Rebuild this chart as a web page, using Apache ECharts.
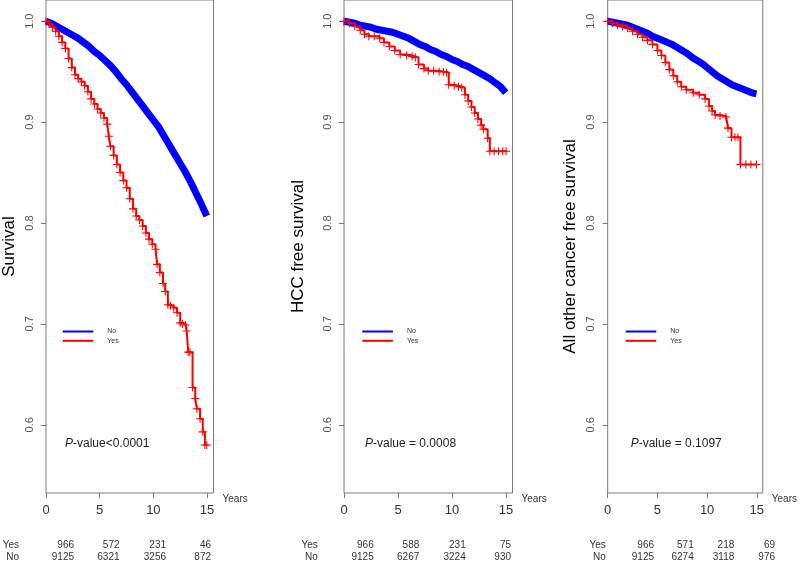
<!DOCTYPE html>
<html><head><meta charset="utf-8">
<script src="https://cdn.jsdelivr.net/npm/echarts@6/dist/echarts.min.js"></script>
<style>html,body{margin:0;padding:0;background:#fff}#c{width:800px;height:562px}</style>
</head><body><div id="c"></div>
<script>
// ---------------- data ----------------
const yTitles = ['Survival', 'HCC free survival', 'All other cancer free survival'];
const pTexts = ['-value<0.0001', '-value = 0.0008', '-value = 0.1097'];
const groupNames = ['No', 'Yes'];
const xTicks = [0, 5, 10, 15];
const yTicks = [0.6, 0.7, 0.8, 0.9, 1.0];
const riskRowLabels = ['Yes', 'No'];
const riskYes = [[966, 572, 231, 46], [966, 588, 231, 75], [966, 571, 218, 69]];
const riskNo = [[9125, 6321, 3256, 872], [9125, 6267, 3224, 930], [9125, 6274, 3118, 976]];

// Panel 1: overall survival
const no1 = [[0,1.0],[0.5,0.998],[1,0.995],[1.5,0.992],[2,0.989],[2.5,0.986],[3,0.983],[3.5,0.979],[4,0.975],[4.5,0.970],[5,0.966],[5.5,0.961],[6,0.956],[6.5,0.950],[7,0.943],[7.5,0.937],[8,0.930],[8.5,0.923],[9,0.916],[9.5,0.909],[10,0.902],[10.5,0.895],[11,0.886],[11.5,0.877],[12,0.868],[12.5,0.859],[13,0.850],[13.5,0.840],[14,0.829],[14.5,0.818],[14.97,0.807]];
const yes1 = [[0,1.0],[0.3,0.997],[0.6,0.994],[0.9,0.990],[1.2,0.985],[1.5,0.979],[1.8,0.973],[2.1,0.963],[2.4,0.954],[2.7,0.947],[3.0,0.943],[3.3,0.940],[3.6,0.936],[3.9,0.930],[4.2,0.923],[4.5,0.918],[4.8,0.913],[5.1,0.909],[5.4,0.904],[5.7,0.898],[5.85,0.886],[6.0,0.876],[6.3,0.867],[6.6,0.858],[6.9,0.850],[7.2,0.842],[7.5,0.835],[7.8,0.824],[8.1,0.814],[8.4,0.807],[8.7,0.803],[9.0,0.797],[9.3,0.790],[9.6,0.784],[9.9,0.779],[10.2,0.774],[10.35,0.759],[10.6,0.751],[10.9,0.740],[11.1,0.732],[11.35,0.719],[11.6,0.718],[11.9,0.716],[12.2,0.711],[12.5,0.701],[12.7,0.700],[13.0,0.699],[13.1,0.693],[13.25,0.672],[13.4,0.672],[13.65,0.637],[13.9,0.626],[14.05,0.616],[14.35,0.606],[14.6,0.593],[14.8,0.580],[14.97,0.580]];

// Panel 2: HCC free survival
const no2 = [[0,1.0],[0.5,0.999],[1,0.998],[1.5,0.996],[2,0.995],[2.5,0.994],[3,0.992],[3.5,0.991],[4,0.990],[4.5,0.989],[5,0.987],[5.5,0.985],[6,0.983],[6.5,0.980],[7,0.977],[7.5,0.975],[8,0.972],[8.5,0.970],[9,0.967],[9.5,0.965],[10,0.962],[10.5,0.960],[11,0.957],[11.5,0.955],[12,0.952],[12.5,0.949],[13,0.946],[13.5,0.943],[14,0.939],[14.5,0.935],[14.97,0.929]];
const yes2 = [[0,1.0],[0.5,0.998],[1.0,0.995],[1.5,0.991],[1.9,0.987],[2.3,0.985],[2.8,0.985],[3.3,0.983],[3.7,0.979],[4.2,0.975],[4.7,0.971],[5.2,0.967],[5.8,0.966],[6.3,0.965],[6.6,0.964],[6.9,0.957],[7.4,0.953],[7.8,0.951],[8.3,0.951],[8.8,0.950],[9.2,0.950],[9.5,0.949],[9.7,0.937],[10.2,0.936],[10.6,0.935],[10.9,0.934],[11.2,0.927],[11.5,0.921],[11.8,0.915],[12.1,0.909],[12.4,0.903],[12.7,0.897],[12.9,0.893],[13.3,0.884],[13.5,0.871],[13.9,0.871],[14.3,0.871],[14.7,0.871],[15.0,0.871]];

// Panel 3: all other cancer free survival
const no3 = [[0,1.0],[0.5,0.999],[1,0.998],[1.5,0.997],[2,0.996],[2.5,0.994],[3,0.992],[3.5,0.990],[4,0.988],[4.5,0.985],[5,0.983],[5.5,0.981],[6,0.979],[6.5,0.977],[7,0.974],[7.5,0.971],[8,0.968],[8.5,0.964],[9,0.961],[9.5,0.958],[10,0.954],[10.5,0.950],[11,0.946],[11.5,0.943],[12,0.940],[12.5,0.937],[13,0.935],[13.5,0.933],[14,0.931],[14.5,0.929],[14.96,0.928]];
const yes3 = [[0,1.0],[0.5,0.998],[1.0,0.996],[1.5,0.995],[2.0,0.993],[2.5,0.990],[3.0,0.987],[3.5,0.984],[4.0,0.981],[4.5,0.977],[5.0,0.971],[5.4,0.966],[5.8,0.959],[6.2,0.952],[6.6,0.946],[7.0,0.940],[7.4,0.935],[7.9,0.932],[8.6,0.929],[9.2,0.927],[9.8,0.923],[10.2,0.916],[10.5,0.911],[10.8,0.907],[11.3,0.906],[11.9,0.905],[12.1,0.894],[12.45,0.885],[12.8,0.885],[13.1,0.885],[13.35,0.858],[13.9,0.858],[14.4,0.858],[14.96,0.858]];

const noSeries = [no1, no2, no3];
const yesSeries = [yes1, yes2, yes3];

// ---------------- layout ----------------
const FONT = '"Liberation Sans", Arial, sans-serif';
const BLUE = '#0000ff', RED = '#ff0000';
const panels = [
  {left: 45, width: 168.5, nameGap: 28, legendLeft: 62.7, pLeft: 65, rowLabelRight: 19, colRight: [74, 119.5, 166, 211]},
  {left: 344, width: 168.5, nameGap: 37, legendLeft: 362.3, pLeft: 365, rowLabelRight: 317.7, colRight: [373.7, 419.3, 465.7, 511]},
  {left: 607.7, width: 157, nameGap: 29, legendLeft: 625.7, pLeft: 630.7, rowLabelRight: 605.7, colRight: [654, 693.7, 734.3, 775]}
];
const GRID_TOP = -2, GRID_H = 495;
const Y_MIN = 0.5324, Y_MAX = 1.021, X_MAX = 15.6;
const crossPath = 'path://M4,0h1.2v4h4v1.2h-4v4h-1.2v-4h-4v-1.2h4z';

const grids = [], xAxes = [], yAxes = [], series = [], legends = [], graphics = [];
panels.forEach((p, i) => {
  grids.push({left: p.left, width: p.width, top: GRID_TOP, height: GRID_H,
    show: true, borderColor: '#7a7a7a', borderWidth: 1, backgroundColor: 'transparent'});
  xAxes.push({type: 'value', gridIndex: i, min: 0, max: X_MAX,
    axisLine: {show: false}, splitLine: {show: false},
    axisTick: {show: true, length: 5, customValues: xTicks, lineStyle: {color: '#7a7a7a'}},
    axisLabel: {customValues: xTicks, fontSize: 13, color: '#333', margin: 11, fontFamily: FONT},
    name: 'Years', nameLocation: 'end', nameGap: 9,
    nameTextStyle: {fontSize: 10, color: '#333', fontFamily: FONT, verticalAlign: 'top', align: 'left', lineHeight: 12}});
  yAxes.push({type: 'value', gridIndex: i, min: Y_MIN, max: Y_MAX,
    axisLine: {show: false}, splitLine: {show: false},
    axisTick: {show: true, length: 5, customValues: yTicks, lineStyle: {color: '#7a7a7a'}},
    axisLabel: {customValues: yTicks, rotate: 90, fontSize: 11, color: '#555', margin: 11, fontFamily: FONT,
      formatter: v => v.toFixed(1)},
    name: yTitles[i], nameLocation: 'middle', nameGap: p.nameGap, nameRotate: 90, nameMoveOverlap: false,
    nameTextStyle: {fontSize: 17, color: '#000', fontFamily: FONT}});
  series.push({name: groupNames[0], type: 'line', xAxisIndex: i, yAxisIndex: i, data: noSeries[i],
    color: BLUE, showSymbol: false, lineStyle: {width: 7, color: BLUE}, z: 2, silent: true});
  series.push({name: groupNames[1], type: 'line', xAxisIndex: i, yAxisIndex: i, data: yesSeries[i],
    color: RED, step: 'end', showSymbol: true, showAllSymbol: true, symbol: crossPath, symbolSize: 8,
    itemStyle: {color: RED}, lineStyle: {width: 2, color: RED}, z: 3, silent: true});
  legends.push({orient: 'vertical', left: p.legendLeft, top: 327, padding: 0, itemGap: 0.3,
    itemWidth: 30.6, itemHeight: 2, icon: 'rect', selectedMode: false, data: groupNames,
    textStyle: {fontSize: 7, lineHeight: 9, color: '#333', fontFamily: FONT, padding: [0, 0, 0, 9]}});
  graphics.push({type: 'text', x: p.pLeft, y: 444, silent: true,
    style: {text: '{i|P}{n|' + pTexts[i] + '}', textVerticalAlign: 'middle', verticalAlign: 'middle',
      rich: {i: {fontSize: 12, fontStyle: 'italic', fontFamily: FONT, fill: '#222'},
             n: {fontSize: 12, fontFamily: FONT, fill: '#222'}}}});
  const rows = [riskYes[i], riskNo[i]];
  const rowY = [545.7, 557.7];
  rows.forEach((vals, r) => {
    graphics.push({type: 'text', x: p.rowLabelRight, y: rowY[r], silent: true,
      style: {text: riskRowLabels[r], font: '10px ' + FONT, fill: '#333',
        textAlign: 'right', align: 'right', textVerticalAlign: 'middle', verticalAlign: 'middle'}});
    vals.forEach((v, k) => {
      graphics.push({type: 'text', x: p.colRight[k], y: rowY[r], silent: true,
        style: {text: String(v), font: '10px ' + FONT, fill: '#333',
          textAlign: 'right', align: 'right', textVerticalAlign: 'middle', verticalAlign: 'middle'}});
    });
  });
});

const chart = echarts.init(document.getElementById('c'), null, {renderer: 'canvas'});
chart.setOption({
  animation: false,
  backgroundColor: '#fff',
  textStyle: {fontFamily: FONT},
  grid: grids, xAxis: xAxes, yAxis: yAxes, series: series, legend: legends,
  graphic: {elements: graphics}
});
</script></body></html>
